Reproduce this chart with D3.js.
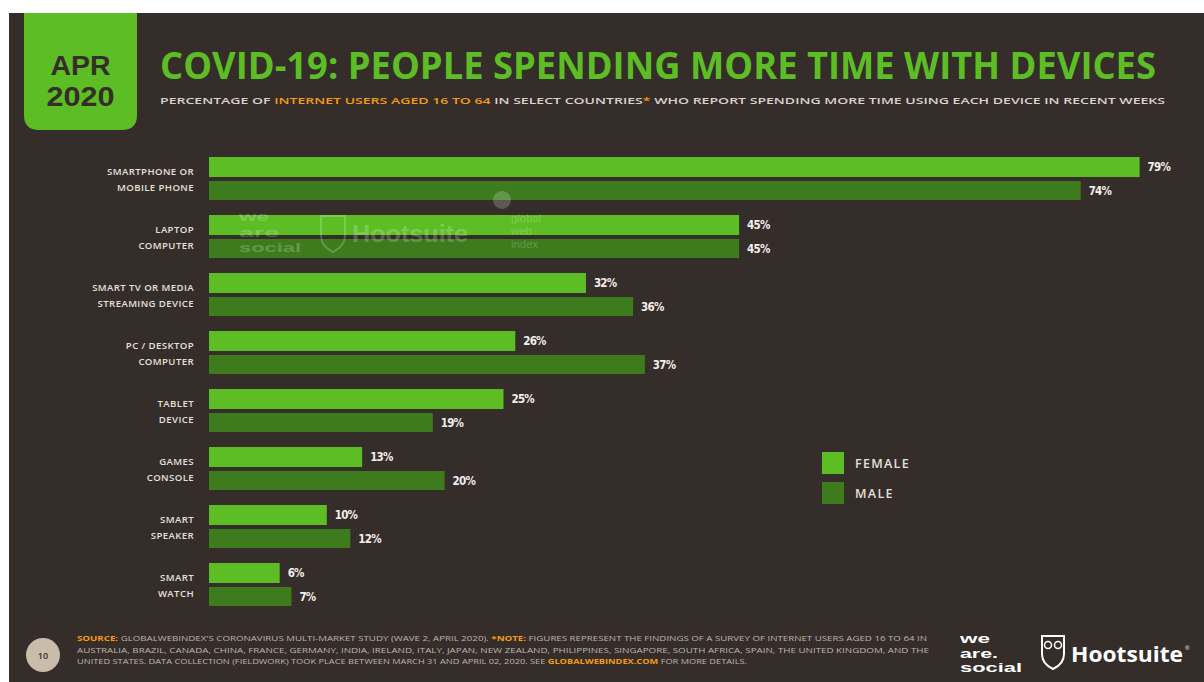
<!DOCTYPE html>
<html>
<head>
<meta charset="utf-8">
<script src="https://cdn.jsdelivr.net/npm/d3@7"></script>
<style>
  html, body { margin: 0; padding: 0; background: #ffffff; }
  svg { display: block; }
</style>
</head>
<body>
<div id="chart"></div>
<script>
// Devices, top to bottom, with their two-line labels
const categories = [
  ["SMARTPHONE OR", "MOBILE PHONE"],
  ["LAPTOP", "COMPUTER"],
  ["SMART TV OR MEDIA", "STREAMING DEVICE"],
  ["PC / DESKTOP", "COMPUTER"],
  ["TABLET", "DEVICE"],
  ["GAMES", "CONSOLE"],
  ["SMART", "SPEAKER"],
  ["SMART", "WATCH"]
];
// Share of internet users spending more time with each device (%)
const female = [79, 45, 32, 26, 25, 13, 10, 6];
const male   = [74, 45, 36, 37, 19, 20, 12, 7];
const seriesNames = ["FEMALE", "MALE"];

const W = 1204, H = 682;
const BG = "#352d29";
const GREEN = "#5dbd24";
const DARK_GREEN = "#3d7b1c";
const ORANGE = "#f39c12";
const TEXT = "#e4e0dc";

const svg = d3.select("#chart").append("svg")
  .attr("width", W).attr("height", H);

// Slide background
svg.append("rect").attr("x", 9).attr("y", 13).attr("width", W - 9).attr("height", H - 13).attr("fill", BG);

// Date badge with rounded bottom corners
const bx = 24, by = 13, bw = 113, bh = 117, br = 15;
svg.append("path")
  .attr("d", `M${bx},${by} H${bx + bw} V${by + bh - br} Q${bx + bw},${by + bh} ${bx + bw - br},${by + bh} H${bx + br} Q${bx},${by + bh} ${bx},${by + bh - br} Z`)
  .attr("fill", GREEN);
const badge = svg.append("text").attr("text-anchor", "middle")
  .attr("font-family", "'Liberation Sans', sans-serif").attr("font-weight", 700).attr("font-size", 27.5)
  .attr("fill", BG);
badge.append("tspan").attr("x", bx + bw / 2).attr("y", 74.5)
  .attr("textLength", 60).attr("lengthAdjust", "spacingAndGlyphs").text("APR");
badge.append("tspan").attr("x", bx + bw / 2).attr("y", 106)
  .attr("textLength", 68).attr("lengthAdjust", "spacingAndGlyphs").text("2020");

// Title
svg.append("text").attr("x", 160).attr("y", 79)
  .attr("font-family", "'Open Sans', sans-serif").attr("font-weight", 700).attr("font-size", 38)
  .attr("fill", GREEN).attr("textLength", 996).attr("lengthAdjust", "spacingAndGlyphs")
  .text("COVID-19: PEOPLE SPENDING MORE TIME WITH DEVICES");

// Subtitle
const sub = svg.append("text").attr("x", 160).attr("y", 104)
  .attr("font-family", "'Open Sans', sans-serif").attr("font-weight", 600).attr("font-size", 9.5)
  .attr("fill", "#d8d3ce").attr("textLength", 1005).attr("lengthAdjust", "spacingAndGlyphs");
sub.append("tspan").text("PERCENTAGE OF ");
sub.append("tspan").attr("fill", ORANGE).text("INTERNET USERS AGED 16 TO 64");
sub.append("tspan").text(" IN SELECT COUNTRIES");
sub.append("tspan").attr("fill", ORANGE).text("*");
sub.append("tspan").text(" WHO REPORT SPENDING MORE TIME USING EACH DEVICE IN RECENT WEEKS");

// Scales
const x = d3.scaleLinear().domain([0, 100]).range([209, 209 + 1178]);
const y = d3.scaleBand().domain(d3.range(categories.length)).range([157, 157 + 58 * categories.length]).paddingInner(0);
const barH = 20, gap = 4;

const rows = categories.map((c, i) => ({ label: c, f: female[i], m: male[i], i }));
const g = svg.append("g");

const row = g.selectAll("g.row").data(rows).join("g").attr("class", "row")
  .attr("transform", d => `translate(0,${y(d.i)})`);

// Female and male bars
row.append("rect").attr("x", x(0)).attr("y", 0).attr("height", barH)
  .attr("width", d => x(d.f) - x(0)).attr("fill", GREEN);
row.append("rect").attr("x", x(0)).attr("y", barH + gap).attr("height", barH - 1)
  .attr("width", d => x(d.m) - x(0)).attr("fill", DARK_GREEN);

// Value labels
const valStyle = sel => sel.attr("font-family", "'DejaVu Sans Condensed', 'DejaVu Sans', sans-serif")
  .attr("font-weight", 700).attr("font-size", 11.5).attr("fill", "#f2efec")
  .attr("letter-spacing", -0.8);
row.append("text").call(valStyle).attr("x", d => x(d.f) + 8).attr("y", barH / 2 + 4)
  .text(d => d3.format("d")(d.f) + "%");
row.append("text").call(valStyle).attr("x", d => x(d.m) + 8).attr("y", barH + gap + barH / 2 + 4)
  .text(d => d3.format("d")(d.m) + "%");

// Category labels (two lines, right aligned)
const catText = row.append("text").attr("text-anchor", "end")
  .attr("font-family", "'Open Sans', sans-serif").attr("font-weight", 600).attr("font-size", 9.6)
  .attr("fill", TEXT).attr("letter-spacing", 0.4);
catText.append("tspan").attr("x", 194).attr("y", 17.5).text(d => d.label[0]);
catText.append("tspan").attr("x", 194).attr("y", 33.5).text(d => d.label[1]);

// Faint watermark logos drawn over the bars
const wm = svg.append("g").attr("opacity", 0.2).attr("fill", "#ffffff")
  .attr("font-family", "'Liberation Sans', sans-serif").attr("font-weight", 700);
const wmWe = wm.append("text").attr("font-size", 13.5);
[["we", 30], ["are", 40], ["social", 62]].forEach(([t, len], i) => {
  wmWe.append("tspan").attr("x", 239).attr("y", 221 + i * 15.5)
    .attr("textLength", len).attr("lengthAdjust", "spacingAndGlyphs").text(t);
});
wm.append("path").attr("d", "M321,216 h24 v20 q0,10 -12,16 q-12,-6 -12,-16 z")
  .attr("fill", "none").attr("stroke", "#ffffff").attr("stroke-width", 2);
wm.append("text").attr("x", 352).attr("y", 242).attr("font-size", 24)
  .attr("textLength", 116).attr("lengthAdjust", "spacingAndGlyphs").text("Hootsuite");
wm.append("circle").attr("cx", 502).attr("cy", 200).attr("r", 9);
const wmG = wm.append("text").attr("font-size", 11.4).attr("font-weight", 400);
["global", "web", "index"].forEach((t, i) => {
  wmG.append("tspan").attr("x", 511).attr("y", 222 + i * 13).text(t);
});

// Legend
const legend = svg.append("g").selectAll("g").data(seriesNames).join("g")
  .attr("transform", (d, i) => `translate(822,${452 + i * 30})`);
legend.append("rect").attr("width", 22).attr("height", 22).attr("fill", (d, i) => i === 0 ? GREEN : DARK_GREEN);
legend.append("text").attr("x", 33).attr("y", 16)
  .attr("font-family", "'Open Sans', sans-serif").attr("font-weight", 600).attr("font-size", 12.5)
  .attr("fill", TEXT).attr("letter-spacing", 1.3).text(d => d);

// Footer: page number
svg.append("circle").attr("cx", 43).attr("cy", 655).attr("r", 17).attr("fill", "#c9bcab");
svg.append("text").attr("x", 43).attr("y", 659).attr("text-anchor", "middle")
  .attr("font-family", "'Open Sans', sans-serif").attr("font-weight", 600).attr("font-size", 9)
  .attr("fill", BG).text("10");

// Footer: source and notes
const footLines = [
  [["SOURCE:", true], [" GLOBALWEBINDEX'S CORONAVIRUS MULTI-MARKET STUDY (WAVE 2, APRIL 2020). ", false], ["*NOTE:", true], [" FIGURES REPRESENT THE FINDINGS OF A SURVEY OF INTERNET USERS AGED 16 TO 64 IN", false]],
  [["AUSTRALIA, BRAZIL, CANADA, CHINA, FRANCE, GERMANY, INDIA, IRELAND, ITALY, JAPAN, NEW ZEALAND, PHILIPPINES, SINGAPORE, SOUTH AFRICA, SPAIN, THE UNITED KINGDOM, AND THE", false]],
  [["UNITED STATES. DATA COLLECTION (FIELDWORK) TOOK PLACE BETWEEN MARCH 31 AND APRIL 02, 2020. SEE ", false], ["GLOBALWEBINDEX.COM", true], [" FOR MORE DETAILS.", false]]
];
const footLen = [850, 852, 670];
footLines.forEach((parts, i) => {
  const t = svg.append("text").attr("x", 77).attr("y", 641 + i * 11.5)
    .attr("font-family", "'Open Sans', sans-serif").attr("font-size", 6.4).attr("fill", "#bdb5ad")
    .attr("textLength", footLen[i]).attr("lengthAdjust", "spacingAndGlyphs");
  parts.forEach(([s, hi]) => {
    const ts = t.append("tspan").text(s);
    if (hi) ts.attr("fill", ORANGE).attr("font-weight", 700);
  });
});

// Footer logos
const logo = svg.append("g").attr("fill", "#ffffff").attr("font-family", "'Liberation Sans', sans-serif").attr("font-weight", 700);
const was = logo.append("text").attr("font-size", 13);
[["we", 30], ["are.", 38], ["social", 62]].forEach(([t, len], i) => {
  was.append("tspan").attr("x", 960).attr("y", 643 + i * 14.5)
    .attr("textLength", len).attr("lengthAdjust", "spacingAndGlyphs").text(t);
});
logo.append("path")
  .attr("d", "M1042,636 h22 v18 q0,10 -11,15 q-11,-5 -11,-15 z")
  .attr("fill", "none").attr("stroke", "#ffffff").attr("stroke-width", 2);
logo.append("circle").attr("cx", 1048).attr("cy", 645).attr("r", 3.5).attr("fill", "none").attr("stroke", "#ffffff").attr("stroke-width", 1.5);
logo.append("circle").attr("cx", 1058).attr("cy", 645).attr("r", 3.5).attr("fill", "none").attr("stroke", "#ffffff").attr("stroke-width", 1.5);
logo.append("text").attr("x", 1071).attr("y", 662).attr("font-family", "'Open Sans', sans-serif").attr("font-size", 21)
  .attr("textLength", 112).attr("lengthAdjust", "spacingAndGlyphs").text("Hootsuite");
logo.append("text").attr("x", 1185).attr("y", 650).attr("font-size", 6).attr("font-weight", 400).text("®");
</script>
</body>
</html>
